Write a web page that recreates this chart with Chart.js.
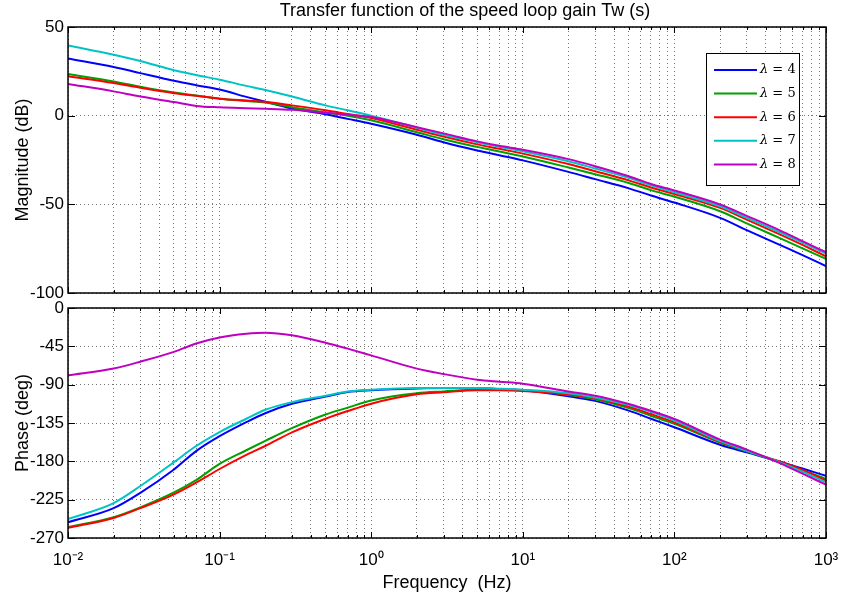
<!DOCTYPE html>
<html><head><meta charset="utf-8">
<script src="https://cdn.jsdelivr.net/npm/chart.js@4.4.0/dist/chart.umd.min.js"></script>
<style>
html,body{margin:0;padding:0;background:#fff;}
#wrap{position:relative;width:841px;height:602px;overflow:hidden;background:#fff;}
#bot{position:absolute;left:0;top:296px;width:841px;height:306px;}
#top{position:absolute;left:0;top:0;width:841px;height:300px;}
</style></head><body>
<div id="wrap">
<div id="bot"><canvas id="cb" width="841" height="306"></canvas></div>
<div id="top"><canvas id="ct" width="841" height="300"></canvas></div>
</div>
<script>
// ---------- data ----------
const chartTitle = 'Transfer function of the speed loop gain Tw (s)';
const magTitle = 'Magnitude (dB)';
const phaseTitle = 'Phase (deg)';
const freqTitle = 'Frequency  (Hz)';

const freqHz = [0.01, 0.02, 0.03, 0.05, 0.07, 0.1, 0.15, 0.2, 0.3, 0.5, 0.7, 1, 2, 3, 5, 7, 10, 20, 30, 50, 70, 100, 200, 300, 500, 700, 1000];

const lambdaValues = [4, 5, 6, 7, 8];
const seriesColors = ['#0000ff', '#00a000', '#ff0000', '#00c4c4', '#c000c0'];

const magL4 = [32.3, 27.5, 24.0, 19.7, 17.2, 14.7, 10.6, 7.8, 4.0, 0.8, -1.8, -4.6, -10.8, -15.0, -19.6, -22.3, -25.2, -31.7, -35.8, -41.0, -45.0, -49.0, -57.6, -64.5, -73.0, -78.6, -84.8];
const magL5 = [23.5, 19.3, 16.3, 13.0, 11.4, 9.6, 8.3, 7.4, 4.8, 1.8, 0.0, -2.6, -9.3, -13.3, -17.6, -20.2, -23.0, -29.2, -33.0, -38.0, -42.0, -45.7, -53.9, -60.7, -69.2, -74.8, -80.8];
const magL6 = [22.2, 18.4, 15.7, 12.7, 11.2, 9.6, 8.5, 7.8, 5.8, 3.0, 0.9, -1.3, -7.9, -11.8, -16.2, -18.7, -21.4, -27.3, -31.3, -36.5, -40.5, -44.2, -52.0, -58.6, -67.1, -72.9, -79.3];
const magL7 = [39.6, 34.4, 30.8, 25.6, 22.9, 20.3, 16.8, 14.5, 10.8, 5.8, 3.0, 0.0, -6.8, -10.8, -15.0, -17.5, -20.1, -25.7, -29.8, -35.1, -39.3, -43.2, -51.1, -57.6, -65.9, -71.6, -77.8];
const magL8 = [17.9, 13.7, 10.8, 7.7, 5.5, 4.7, 4.2, 3.9, 3.3, 1.7, 0.5, -0.7, -6.5, -10.0, -14.5, -17.0, -19.2, -24.5, -28.5, -34.2, -38.5, -42.2, -50.1, -56.5, -64.8, -70.8, -77.0];

const phL4 = [-251.6, -235, -217, -189.5, -168, -150.5, -134, -123.5, -112.5, -104, -98.5, -96.5, -94.5, -94, -94, -95, -96.5, -103.5, -109, -120.5, -130, -140, -160.5, -169.5, -180.5, -188.5, -197];
const phL5 = [-257, -245.5, -234, -216.5, -202, -183, -167, -156, -141, -125, -117, -108.5, -100, -98, -96, -96, -96.7, -102, -107, -117.5, -126.5, -136, -158, -168.3, -181.5, -190.5, -200.7];
const phL6 = [-258, -246.5, -235, -218.7, -205, -189, -172.5, -162, -146, -130, -121, -112.3, -101.3, -99, -96.7, -96.7, -97.4, -101.5, -106, -116, -124.5, -134.2, -157, -167.5, -180.5, -190, -202.7];
const phL7 = [-247.7, -229, -209, -181, -162, -145.6, -130, -119.5, -110.5, -103, -98, -95.9, -93.9, -93.9, -93.9, -94.7, -95.9, -100, -105, -114, -122, -132.3, -156.3, -167.5, -181.5, -192, -204.7];
const phL8 = [-79, -71, -63, -51.5, -41.7, -34.6, -30.3, -29, -32, -40.7, -47.7, -55.6, -71.2, -77.5, -84.1, -86.5, -88.8, -98, -103, -112.7, -120.7, -130.3, -154.5, -166.2, -182.3, -194.4, -207.4];

const magSeries = [magL4, magL5, magL6, magL7, magL8];
const phaseSeries = [phL4, phL5, phL6, phL7, phL8];

const magYTicks = [50, 0, -50, -100];
const phaseYTicks = [0, -45, -90, -135, -180, -225, -270];
const xDecades = [0.01, 0.1, 1, 10, 100, 1000];
const xTickLabels = ['10\u207B\u00B2', '10\u207B\u00B9', '10\u2070', '10\u00B9', '10\u00B2', '10\u00B3'];

// ---------- helpers ----------
const FONT = '"Liberation Sans", Arial, Helvetica, sans-serif';
const xGridValues = [];
for (let d = 0; d < xDecades.length - 1; d++) {
  for (let m = 1; m <= 9; m++) xGridValues.push(+(xDecades[d] * m).toPrecision(6));
}
xGridValues.push(xDecades[xDecades.length - 1]);
const isDecade = v => xDecades.some(d => Math.abs(v / d - 1) < 1e-6);
const decadeLabel = v => {
  const i = xDecades.findIndex(d => Math.abs(v / d - 1) < 1e-6);
  return i >= 0 ? xTickLabels[i] : '';
};

function makeDatasets(series) {
  return series.map((arr, i) => ({
    label: '\u03BB = ' + lambdaValues[i],
    data: freqHz.map((f, k) => ({x: f, y: arr[k]})),
    borderColor: seriesColors[i],
    backgroundColor: seriesColors[i],
    borderWidth: 2,
    pointRadius: 0,
    cubicInterpolationMode: 'monotone',
    order: series.length - i
  }));
}

const framePlugin = {
  id: 'frame',
  afterDraw(chart) {
    const {ctx, chartArea: a, scales} = chart;
    ctx.save();
    ctx.strokeStyle = '#000';
    ctx.lineWidth = 1;
    ctx.beginPath();
    scales.x.ticks.forEach(t => {
      const px = Math.round(scales.x.getPixelForValue(t.value)) + 0.5;
      const L = isDecade(t.value) ? 6 : 3;
      ctx.moveTo(px, a.bottom); ctx.lineTo(px, a.bottom - L);
      ctx.moveTo(px, a.top); ctx.lineTo(px, a.top + L);
    });
    scales.y.ticks.forEach(t => {
      const py = Math.round(scales.y.getPixelForValue(t.value)) + 0.5;
      ctx.moveTo(a.left, py); ctx.lineTo(a.left + 7, py);
      ctx.moveTo(a.right, py); ctx.lineTo(a.right - 7, py);
    });
    ctx.stroke();
    ctx.lineWidth = 1.5;
    ctx.strokeRect(a.left, a.top, a.right - a.left, a.bottom - a.top);
    ctx.restore();
  }
};

const titlePlugin = {
  id: 'mainTitle',
  afterDraw(chart) {
    const ctx = chart.ctx;
    ctx.save();
    ctx.fillStyle = '#000';
    ctx.font = '18px ' + FONT;
    ctx.textAlign = 'center';
    ctx.textBaseline = 'middle';
    ctx.fillText(chartTitle, 465, 11);
    ctx.restore();
  }
};

const legendPlugin = {
  id: 'boxLegend',
  afterDraw(chart) {
    const ctx = chart.ctx;
    const bx = 706, by = 53, bw = 93, bh = 132;
    ctx.save();
    ctx.fillStyle = '#fff';
    ctx.fillRect(bx, by, bw, bh);
    ctx.strokeStyle = '#000';
    ctx.lineWidth = 1;
    ctx.strokeRect(bx + 0.5, by + 0.5, bw, bh);
    chart.data.datasets.forEach((ds, i) => {
      const y = 70 + i * 23.6;
      ctx.strokeStyle = ds.borderColor;
      ctx.lineWidth = 2;
      ctx.beginPath();
      ctx.moveTo(714, y); ctx.lineTo(757, y);
      ctx.stroke();
      ctx.fillStyle = '#000';
      ctx.textBaseline = 'middle';
      ctx.textAlign = 'left';
      ctx.font = 'italic 13px "DejaVu Serif", serif';
      ctx.fillText('\u03BB', 760, y);
      const w = ctx.measureText('\u03BB').width;
      ctx.font = '13px "DejaVu Serif", serif';
      ctx.fillText(' = ' + lambdaValues[i], 760 + w, y);
    });
    ctx.restore();
  }
};

const gridOpts = {color: 'rgba(0,0,0,0.55)', lineWidth: 1, drawTicks: false};
const borderOpts = {display: false, dash: [1, 3]};

function xScale(showLabels) {
  return {
    type: 'logarithmic',
    min: 0.01, max: 1000,
    grid: gridOpts,
    border: borderOpts,
    afterBuildTicks: s => { s.ticks = xGridValues.map(v => ({value: v, major: false})); },
    afterFit: s => { s.height = showLabels ? 64 : 0; s.paddingLeft = 0; s.paddingRight = 0; },
    ticks: {
      display: showLabels,
      autoSkip: false, maxRotation: 0, minRotation: 0,
      padding: 12,
      color: '#000',
      font: {family: FONT, size: 17},
      callback: v => decadeLabel(v)
    },
    title: showLabels ? {display: true, text: freqTitle, color: '#000', font: {family: FONT, size: 18}, padding: {top: 0, bottom: 8}} : {display: false}
  };
}

function yScale(tickVals, title) {
  return {
    type: 'linear',
    min: Math.min(...tickVals), max: Math.max(...tickVals),
    grid: gridOpts,
    border: borderOpts,
    afterBuildTicks: s => { s.ticks = tickVals.map(v => ({value: v})); },
    afterFit: s => { s.width = 68; s.paddingTop = 0; s.paddingBottom = 0; },
    ticks: {padding: 4, color: '#000', font: {family: FONT, size: 17}},
    title: {display: true, text: title, color: '#000', font: {family: FONT, size: 18}, padding: {top: 12, bottom: 0}}
  };
}

const commonOpts = {
  responsive: false,
  animation: false,
  devicePixelRatio: 1,
  plugins: {legend: {display: false}, tooltip: {enabled: false}, title: {display: false}},
  elements: {line: {borderCapStyle: 'round', borderJoinStyle: 'round'}}
};

new Chart(document.getElementById('ct'), {
  type: 'line',
  data: {datasets: makeDatasets(magSeries)},
  options: Object.assign({}, commonOpts, {
    layout: {padding: {left: 0, right: 15, top: 27, bottom: 7}},
    scales: {x: xScale(false), y: yScale(magYTicks, magTitle)}
  }),
  plugins: [framePlugin, titlePlugin, legendPlugin]
});

new Chart(document.getElementById('cb'), {
  type: 'line',
  data: {datasets: makeDatasets(phaseSeries)},
  options: Object.assign({}, commonOpts, {
    layout: {padding: {left: 0, right: 15, top: 12, bottom: 0}},
    scales: {x: xScale(true), y: yScale(phaseYTicks, phaseTitle)}
  }),
  plugins: [framePlugin]
});
</script>
</body></html>
